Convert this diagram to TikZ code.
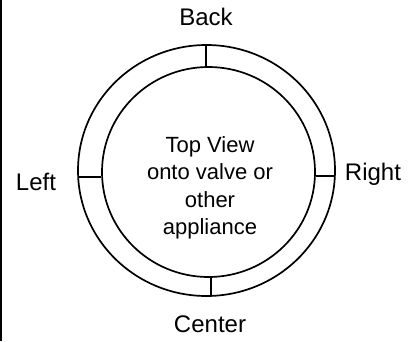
\documentclass[tikz,border=0pt]{standalone}
\usepackage{fontspec}
\setmainfont{Liberation Sans}
\usetikzlibrary{shapes.geometric}
\begin{document}
\begin{tikzpicture}[x=1pt,y=-1pt,
  ring/.style={draw=black, line width=1.7pt, ellipse, inner sep=0pt},
  tick/.style={draw=black, line width=1.7pt},
  lbl/.style={font=\fontsize{24}{28}\selectfont, inner sep=0pt, text=black},
  body/.style={font=\fontsize{22}{27.5}\selectfont, inner sep=0pt, text=black, align=center}]
  \useasboundingbox (0,0) rectangle (417,341);
  % frame edge on the left
  \draw[line width=1.6pt] (1,0) -- (1,341);
  % outer and inner rings
  \node[ring, minimum width=257pt, minimum height=251pt] (outer) at (206.5,170.5) {};
  \node[ring, minimum width=213pt, minimum height=210pt] (inner) at (208.5,172) {};
  % ticks between the rings
  \coordinate (tT) at (206,45);
  \coordinate (tB) at (211,296);
  \coordinate (tL) at (78,177);
  \coordinate (tR) at (335,176);
  \draw[tick] (tT) -- (tT |- inner.north);
  \draw[tick] (tB) -- (tB |- inner.south);
  \draw[tick] (tL) -- (tL -| inner.west);
  \draw[tick] (tR) -- (tR -| inner.east);
  % labels
  \node[lbl] (back) at (206,17) {Back};
  \node[lbl] (left) at (36,182) {Left};
  \node[lbl] (right) at (373,174) {Right};
  \node[lbl] (center) at (210,324) {Center};
  \node[body] (view) at (210,188) {Top View\\onto valve or\\other\\appliance};
\end{tikzpicture}
\end{document}
